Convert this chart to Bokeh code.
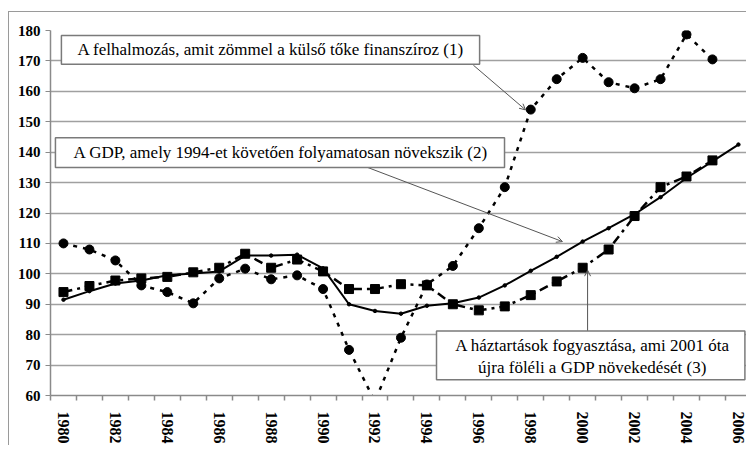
from bokeh.plotting import figure
from bokeh.models import Range1d, FixedTicker, Label, BoxAnnotation, Arrow, OpenHead
from bokeh.embed import file_html
from bokeh.resources import INLINE

# ---- data ----
years = list(range(1980, 2007))
years_26 = list(range(1980, 2006))
felhalmozas = [110, 108, 104.4, 96.2, 94, 90.3, 98.5, 101.7, 98.2, 99.5, 95, 75, 58,
               79, 96.5, 102.6, 115, 128.5, 154, 164, 171, 163, 161, 164, 178.7, 170.5]
haztartas = [94, 96, 97.8, 98.5, 99, 100.5, 102, 106.6, 102, 104.7, 100.8, 95, 95,
             96.6, 96.2, 90, 88, 89.3, 93, 97.5, 102, 108, 119, 128.5, 132, 137.3]
gdp = [91.5, 94.3, 96.8, 97.8, 99.5, 100.1, 100.8, 106, 106, 106.3, 101.8, 90, 87.8,
       86.9, 89.5, 90.3, 92.2, 96.2, 101, 105.6, 110.6, 115, 119.6, 125.2, 131.5, 137, 142.5]
y_ticks = list(range(60, 181, 10))
x_label_years = list(range(1980, 2007, 2))

txt1 = "A felhalmozás, amit zömmel a külső tőke finanszíroz (1)"
txt2 = "A GDP, amely 1994-et követően folyamatosan növekszik (2)"
txt3a = "A háztartások fogyasztása, ami 2001 óta"
txt3b = "újra föléli a GDP növekedését (3)"

SERIF = "Liberation Serif"

p = figure(width=738, height=434, output_backend="svg", toolbar_location=None,
           x_range=Range1d(1979.5, 2006.35), y_range=Range1d(60, 180),
           min_border_left=41, min_border_right=0, min_border_top=18, min_border_bottom=48)
p.styles = {"border-left": "1px solid #9a9a9a", "border-top": "1px solid #9a9a9a",
            "margin-top": "11px", "margin-left": "8px"}
p.outline_line_color = None
p.background_fill_color = "white"
p.border_fill_color = "white"

p.xgrid.visible = False
p.ygrid.grid_line_color = "#a0a0a0"
p.ygrid.grid_line_width = 1.5

p.yaxis.ticker = FixedTicker(ticks=y_ticks)
p.yaxis.axis_line_color = "#8a8a8a"
p.yaxis.axis_line_width = 1.5
p.yaxis.major_tick_line_color = "#8a8a8a"
p.yaxis.major_tick_out = 5
p.yaxis.major_tick_in = 0
p.yaxis.minor_tick_line_color = None
p.yaxis.major_label_standoff = 5
p.yaxis.major_label_text_font = SERIF
p.yaxis.major_label_text_font_style = "bold"
p.yaxis.major_label_text_font_size = "15px"
p.yaxis.major_label_text_color = "black"

p.xaxis.ticker = FixedTicker(ticks=x_label_years,
                             minor_ticks=[y - 0.5 for y in years] + [years[-1] + 0.5])
p.xaxis.axis_line_color = "#8a8a8a"
p.xaxis.axis_line_width = 1.5
p.xaxis.major_tick_line_color = None
p.xaxis.major_tick_out = 0
p.xaxis.major_tick_in = 0
p.xaxis.minor_tick_line_color = "#8a8a8a"
p.xaxis.minor_tick_line_width = 1.5
p.xaxis.minor_tick_out = 5
p.xaxis.minor_tick_in = 0
p.xaxis.major_label_orientation = "vertical"
p.xaxis.major_label_standoff = 11
p.xaxis.major_label_text_font = SERIF
p.xaxis.major_label_text_font_style = "bold"
p.xaxis.major_label_text_font_size = "16px"
p.xaxis.major_label_text_color = "black"

# ---- series ----
p.line(years_26, felhalmozas, line_color="black", line_width=2.5, line_dash="4 6")
p.scatter(years_26, felhalmozas, marker="circle", size=9, fill_color="black", line_color="black")

p.line(years_26, haztartas, line_color="black", line_width=2.5, line_dash="9 5 3 5")
p.scatter(years_26, haztartas, marker="square", size=9, fill_color="black", line_color="black")

p.line(years, gdp, line_color="black", line_width=2)
p.scatter(years, gdp, marker="circle", size=3.5, fill_color="black", line_color="black")

# ---- annotations ----
head = dict(size=6, line_color="#555555", line_width=1)
p.add_layout(Arrow(end=OpenHead(**head), x_start=1995.79, y_start=168.6, x_end=1997.8, y_end=153.9,
                   line_color="#555555", line_width=1))
p.add_layout(Arrow(end=OpenHead(**head), x_start=1991.71, y_start=135.0, x_end=1999.22, y_end=110.6,
                   line_color="#555555", line_width=1))
p.add_layout(Arrow(end=OpenHead(**head), x_start=2000.19, y_start=81.2, x_end=2000.19, y_end=101.2,
                   line_color="#555555", line_width=1))

box_style = dict(fill_color="white", fill_alpha=1.0, line_color="#7a7a7a", line_width=1.5, line_alpha=1.0)
p.add_layout(BoxAnnotation(left=1979.92, right=1996.03, top=178.37, bottom=168.9, **box_style))
p.add_layout(BoxAnnotation(left=1979.69, right=1996.99, top=144.78, bottom=135.0, **box_style))
p.add_layout(BoxAnnotation(left=1994.37, right=2006.25, top=81.2, bottom=65.2, **box_style))

lab = dict(text_font=SERIF, text_font_size="17px", text_color="black", text_baseline="middle")
p.add_layout(Label(x=1980.54, y=173.6, text=txt1, text_align="left", **lab))
p.add_layout(Label(x=1980.39, y=139.9, text=txt2, text_align="left", **lab))
p.add_layout(Label(x=2000.38, y=76.3, text=txt3a, text_align="center", **lab))
p.add_layout(Label(x=2000.38, y=69.1, text=txt3b, text_align="center", **lab))

open("out.html", "w").write(file_html(p, INLINE))
